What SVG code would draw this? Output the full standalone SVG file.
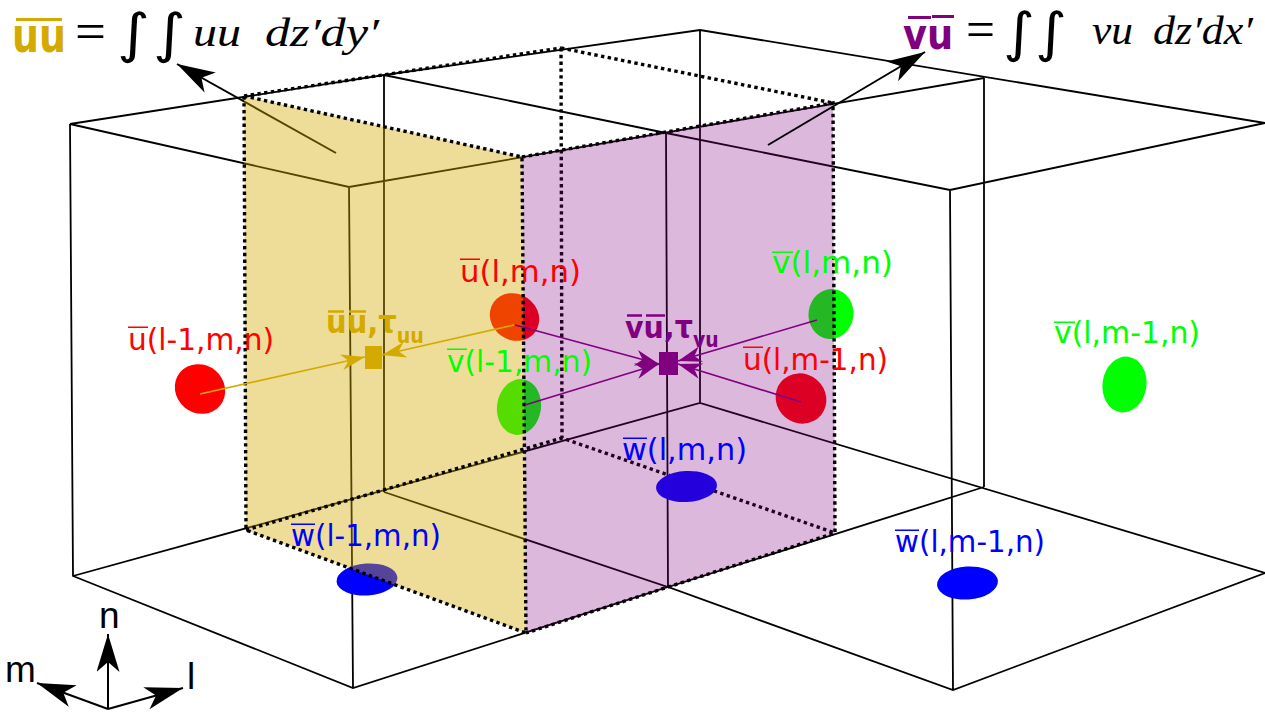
<svg xmlns="http://www.w3.org/2000/svg" width="1265" height="713" viewBox="0 0 1265 713">
<defs>
<marker id="ab" markerUnits="userSpaceOnUse" markerWidth="40" markerHeight="24" refX="38" refY="11.5" orient="auto"><path d="M38 11.5L0 0L10 11.5L0 23Z" fill="#000"/></marker>
<marker id="ag" markerUnits="userSpaceOnUse" markerWidth="26" markerHeight="18" refX="24" refY="8" orient="auto"><path d="M24 8L0 0L7 8L0 16Z" fill="#d4aa00"/></marker>
<marker id="ap" markerUnits="userSpaceOnUse" markerWidth="26" markerHeight="18" refX="24" refY="8" orient="auto"><path d="M24 8L0 0L7 8L0 16Z" fill="#800080"/></marker>
</defs>
<style>
.t{font-family:"DejaVu Sans",sans-serif;font-size:31px}
.e{font-family:"Liberation Serif",serif;font-size:40px;font-style:italic;fill:#000}
.s{font-family:"Liberation Serif",serif;fill:#000}
.i{font-family:"DejaVu Sans",sans-serif;fill:#000}
.b{font-family:"DejaVu Sans",sans-serif;font-weight:bold}
.a{font-family:"Liberation Sans",sans-serif;font-size:37px;fill:#000}
.w{fill:none;stroke:#000;stroke-width:1.8}
.d{fill:none;stroke:#000;stroke-width:3.4;stroke-dasharray:3.4 3.4}
.ar{fill:none;stroke:#000;stroke-width:2}
.lg{fill:none;stroke:#d4aa00;stroke-width:1.6}
.lp{fill:none;stroke:#800080;stroke-width:1.6}
.r{fill:#f00}.g{fill:#0f0}.bl{fill:#00f}
</style>
<rect width="1265" height="713" fill="#fff"/>
<g id="connectors">
<path class="w" d="M70 124L384 75L700 30L1265 123L950 190L666 133L384 75M70 124L349 187L984 78M70 124L73 576L353 688L668 587L953 690L1265 573M73 576L700 403L1265 573M384 492L668 587L984 487M349 187L353 688M384 75L384 492M666 133L668 587M700 30L700 403M984 78L984 487M950 190L953 690"/>
<path class="d" d="M561 48L833 103M561 48L562 438L835 533"/>
<path class="ar" d="M336 153L177 64" marker-end="url(#ab)"/>
</g>
<g id="point-u-l1"><ellipse cx="200" cy="389" rx="26" ry="24" transform="rotate(40 200 389)" class="r"/></g>
<g id="point-u"><ellipse cx="514.500" cy="317" rx="25.500" ry="23" transform="rotate(35 514.500 317)" class="r"/></g>
<g id="point-v-l1"><ellipse cx="519" cy="407" rx="22" ry="28" transform="rotate(8 519 407)" class="g"/></g>
<g id="point-v"><ellipse cx="831" cy="314" rx="22.500" ry="25" transform="rotate(8 831 314)" class="g"/></g>
<g id="point-u-m1"><ellipse cx="801" cy="398.500" rx="26" ry="24.500" transform="rotate(40 801 398.500)" class="r"/></g>
<g id="point-v-m1"><ellipse cx="1124.500" cy="384.500" rx="22" ry="28" transform="rotate(8 1124.500 384.500)" class="g"/></g>
<g id="point-w-l1"><ellipse cx="367" cy="579.500" rx="30.500" ry="16" transform="rotate(-4 367 579.500)" class="bl"/></g>
<g id="point-w"><ellipse cx="686.500" cy="486.500" rx="30.500" ry="15.500" transform="rotate(-3 686.500 486.500)" class="bl"/></g>
<g id="point-w-m1"><ellipse cx="967.500" cy="583" rx="30.500" ry="16.500" transform="rotate(-4 967.500 583)" class="bl"/></g>
<g id="planes"><path d="M244 96L522 157L526 633L246 530Z" fill="#d4aa00" fill-opacity=".4"/><path d="M522 157L833 103L835 533L526 633Z" fill="#800080" fill-opacity=".28"/></g>
<g id="connectors-front">
<path class="d" d="M244 96L522 157L526 633L246 530L244 96M244 96L561 48M522 157L833 103L835 533L526 633M246 530L562 438"/>
<path class="ar" d="M768 145L925 52" marker-end="url(#ab)"/>
<path class="lg" d="M200 394L365 357" marker-end="url(#ag)"/>
<path class="lg" d="M514 325L382 355" marker-end="url(#ag)"/>
<path class="lp" d="M515 325L659 364" marker-end="url(#ap)"/>
<path class="lp" d="M525 405L659 364" marker-end="url(#ap)"/>
<path class="lp" d="M817 320L678 361" marker-end="url(#ap)"/>
<path class="lp" d="M801 402L678 364" marker-end="url(#ap)"/>
<path class="ar" d="M108 709L108 634" marker-end="url(#ab)"/>
<path class="ar" d="M108 709L37 683" marker-end="url(#ab)"/>
<path class="ar" d="M108 709L183 688" marker-end="url(#ab)"/>
</g>
<g id="n1"><text class="t r" x="128" y="350" textLength="146" lengthAdjust="spacingAndGlyphs">u(l-1,m,n)</text><rect class="r" x="128" y="326.500" width="20" height="1.500"/></g>
<g id="n2"><text class="t r" x="460" y="282" textLength="121" lengthAdjust="spacingAndGlyphs">u(l,m,n)</text><rect class="r" x="460" y="258.500" width="20" height="1.500"/></g>
<g id="n3"><text class="t g" x="447" y="372" textLength="145" lengthAdjust="spacingAndGlyphs">v(l-1,m,n)</text><rect class="g" x="447" y="348.500" width="20" height="1.500"/></g>
<g id="n4"><text class="t g" x="772" y="273" textLength="121" lengthAdjust="spacingAndGlyphs">v(l,m,n)</text><rect class="g" x="772" y="251.500" width="21" height="1.500"/></g>
<g id="n5"><text class="t r" x="743" y="370" textLength="145" lengthAdjust="spacingAndGlyphs">u(l,m-1,n)</text><rect class="r" x="743" y="346.500" width="20" height="1.500"/></g>
<g id="n6"><text class="t g" x="1054" y="343" textLength="146" lengthAdjust="spacingAndGlyphs">v(l,m-1,n)</text><rect class="g" x="1054" y="321.500" width="21" height="1.500"/></g>
<g id="n7"><text class="t bl" x="291" y="546" textLength="150" lengthAdjust="spacingAndGlyphs">w(l-1,m,n)</text><rect class="bl" x="291" y="523.500" width="24" height="1.500"/></g>
<g id="n8"><text class="t bl" x="622" y="460" textLength="125" lengthAdjust="spacingAndGlyphs">w(l,m,n)</text><rect class="bl" x="623" y="437.500" width="24" height="1.500"/></g>
<g id="n9"><text class="t bl" x="895" y="552" textLength="150" lengthAdjust="spacingAndGlyphs">w(l,m-1,n)</text><rect class="bl" x="895" y="529.500" width="24" height="1.500"/></g>
<g id="s1"><rect x="365" y="346" width="17" height="23" fill="#d4aa00"/><text class="b" transform="translate(326 333) scale(.906 1)" font-size="32" fill="#d4aa00">uu,τ<tspan font-size="21" dy="10">uu</tspan></text><path d="M328 311.500H344M349 311.500H366" stroke="#d4aa00" stroke-width="2.500"/></g>
<g id="s2"><rect x="659" y="352" width="19" height="23" fill="#800080"/><text class="b" transform="translate(625 338) scale(.92 1)" font-size="31" fill="#800080">vu,τ<tspan font-size="20.500" dy="9">vu</tspan></text><path d="M627 315.500H642M646 315.500H665" stroke="#800080" stroke-width="2.500"/></g>
<g id="eq1"><text class="b" transform="translate(12 52) scale(.948 1.2)" font-size="40" fill="#d4aa00">uu</text><rect x="16" y="18" width="46" height="3" fill="#d4aa00"/>
<text class="s" x="75" y="49" font-size="52" textLength="31" lengthAdjust="spacingAndGlyphs">=</text>
<text class="i" x="117" y="52" font-size="54" textLength="33" lengthAdjust="spacingAndGlyphs">∫</text><text class="i" x="153" y="52" font-size="54" textLength="33" lengthAdjust="spacingAndGlyphs">∫</text>
<text class="e" x="193" y="46" textLength="48" lengthAdjust="spacingAndGlyphs">uu</text><text class="e" x="265" y="46" textLength="114" lengthAdjust="spacingAndGlyphs">dz′dy′</text></g>
<g id="eq2"><text class="b" transform="translate(903 49) scale(.92 1.07)" font-size="40" fill="#800080">vu</text><path d="M908 17.500H931M932 16.500H954" stroke="#800080" stroke-width="2.800"/>
<text class="s" x="966" y="47" font-size="52" textLength="29" lengthAdjust="spacingAndGlyphs">=</text>
<text class="i" x="1003" y="51" font-size="54" textLength="32" lengthAdjust="spacingAndGlyphs">∫</text><text class="i" x="1035" y="51" font-size="54" textLength="32" lengthAdjust="spacingAndGlyphs">∫</text>
<text class="e" x="1092" y="44" textLength="41" lengthAdjust="spacingAndGlyphs">vu</text><text class="e" x="1153" y="44" textLength="100" lengthAdjust="spacingAndGlyphs">dz′dx′</text></g>
<g id="axes"><text class="a" x="99" y="628">n</text><text class="a" x="5" y="682">m</text><text class="a" x="187" y="689">l</text></g>
</svg>
